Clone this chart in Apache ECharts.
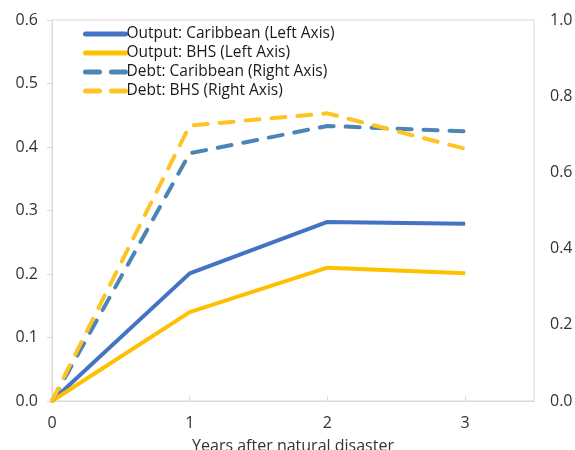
<!DOCTYPE html>
<html>
<head>
<meta charset="utf-8">
<script src="https://cdn.jsdelivr.net/npm/echarts@6/dist/echarts.min.js"></script>
<style>html,body{margin:0;padding:0;background:#fff}#c{width:575px;height:450px}</style>
</head>
<body>
<div id="c"></div>
<script>
// Years after the disaster
const years = [0, 1, 2, 3];
// Output response (left axis)
const outputCaribbean = [0, 0.201, 0.282, 0.279];
const outputBHS = [0, 0.140, 0.210, 0.201];
// Debt response (right axis)
const debtCaribbean = [0, 0.650, 0.722, 0.708];
const debtBHS = [0, 0.723, 0.755, 0.662];

const FONT = '"Open Sans", "Noto Sans", sans-serif';
const pairs = arr => years.map((x, i) => [x, arr[i]]);

const chart = echarts.init(document.getElementById('c'), null, {renderer: 'canvas'});
chart.setOption({
  animation: false,
  textStyle: {fontFamily: FONT},
  grid: {left: 52, right: 41, top: 20, bottom: 49, show: true, borderColor: '#d9d9d9', borderWidth: 1,
         containLabel: false, outerBoundsMode: 'none'},
  legend: {
    orient: 'vertical', left: 78, top: 21, itemGap: 3, itemWidth: 40, itemHeight: 16,
    itemStyle: {opacity: 0},
    lineStyle: {width: 5, cap: 'round'},
    textStyle: {fontSize: 15.5, color: '#1a1a1a', fontFamily: FONT, padding: [0, 0, 0, -4]},
    data: ['Output: Caribbean (Left Axis)', 'Output: BHS (Left Axis)', 'Debt: Caribbean (Right Axis)', 'Debt: BHS (Right Axis)']
  },
  xAxis: {
    type: 'value', min: 0, max: 3.5, interval: 1,
    name: 'Years after natural disaster', nameLocation: 'middle', nameGap: 37,
    nameTextStyle: {fontSize: 16, color: '#333', fontFamily: FONT},
    axisLine: {show: true, lineStyle: {color: '#d9d9d9'}},
    axisTick: {show: true, inside: true, length: 5, lineStyle: {color: '#d9d9d9'}},
    axisLabel: {fontSize: 16, color: '#333', margin: 14, showMaxLabel: false, fontFamily: FONT},
    splitLine: {show: false}
  },
  yAxis: [{
    type: 'value', min: 0, max: 0.6, interval: 0.1,
    axisLine: {show: true, lineStyle: {color: '#d9d9d9'}},
    axisTick: {show: true, length: 5, lineStyle: {color: '#d9d9d9'}},
    axisLabel: {fontSize: 16, color: '#333', margin: 14, formatter: v => v.toFixed(1), fontFamily: FONT},
    splitLine: {show: false}
  }, {
    type: 'value', min: 0, max: 1.0, interval: 0.2,
    axisLine: {show: false},
    axisTick: {show: false},
    axisLabel: {fontSize: 16, color: '#333', margin: 16, formatter: v => v.toFixed(1), fontFamily: FONT},
    splitLine: {show: false}
  }],
  series: [{
    name: 'Output: Caribbean (Left Axis)', type: 'line', yAxisIndex: 0, data: pairs(outputCaribbean),
    symbol: 'none', color: '#4472C4', lineStyle: {width: 4, color: '#4472C4'}
  }, {
    name: 'Output: BHS (Left Axis)', type: 'line', yAxisIndex: 0, data: pairs(outputBHS),
    symbol: 'none', color: '#FFC000', lineStyle: {width: 4, color: '#FFC000'}
  }, {
    name: 'Debt: Caribbean (Right Axis)', type: 'line', yAxisIndex: 1, data: pairs(debtCaribbean),
    symbol: 'none', color: '#4A85B6',
    lineStyle: {width: 4, color: '#4A85B6', type: [14, 12], cap: 'round'}
  }, {
    name: 'Debt: BHS (Right Axis)', type: 'line', yAxisIndex: 1, data: pairs(debtBHS),
    symbol: 'none', color: '#FFC423',
    lineStyle: {width: 4, color: '#FFC423', type: [14, 12], cap: 'round'}
  }]
});
</script>
</body>
</html>
